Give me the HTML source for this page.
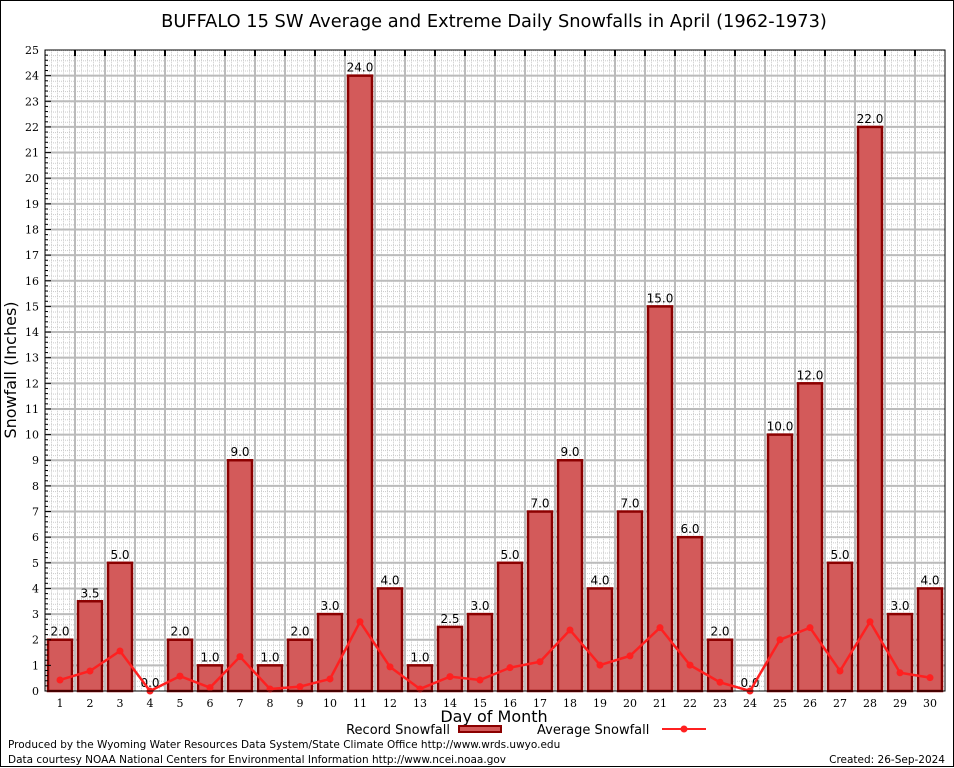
<!DOCTYPE html>
<html><head><meta charset="utf-8"><style>
body{margin:0;background:#fff;}
svg{display:block;font-family:"DejaVu Sans","Liberation Sans",sans-serif;}
</style></head><body>
<svg id="chart" width="954" height="768" viewBox="0 0 954 768">
<defs>
<pattern id="minor" width="6" height="5.128" patternUnits="userSpaceOnUse" x="45" y="50">
<rect width="6" height="5.128" fill="#fff"/>
<line x1="0" y1="0.5" x2="6" y2="0.5" stroke="#ccc" stroke-width="1" stroke-dasharray="1,1"/>
<line x1="0.5" y1="0" x2="0.5" y2="5.128" stroke="#ccc" stroke-width="1" stroke-dasharray="1,1"/>
</pattern>
</defs>
<rect x="0.5" y="0.5" width="953" height="766" fill="#fff" stroke="#000"/>
<text x="494" y="27" font-size="17.8" text-anchor="middle">BUFFALO 15 SW Average and Extreme Daily Snowfalls in April (1962-1973)</text>
<rect x="45" y="50" width="900" height="641" fill="url(#minor)"/>
<g id="grid"></g>
<g id="bars"></g>
<g id="avg"></g>
<rect x="45" y="50" width="900" height="641" fill="none" stroke="#000"/>
<g id="axes"></g>
<text x="16" y="370" font-size="16" text-anchor="middle" transform="rotate(-90 16 370)">Snowfall (Inches)</text>
<text x="494" y="722" font-size="16" text-anchor="middle">Day of Month</text>
<g>
<text x="450" y="734" font-size="13" text-anchor="end">Record Snowfall</text>
<rect x="459" y="726" width="42" height="6" fill="#d35a5a" stroke="#8b0000" stroke-width="2"/>
</g>
<g>
<text x="537" y="734" font-size="13">Average Snowfall</text>
<line x1="662" y1="729" x2="706" y2="729" stroke="#ff2020" stroke-width="2"/>
<circle cx="684" cy="729" r="3.5" fill="#ff2020"/>
</g>
<text x="8" y="748" font-size="10.5">Produced by the Wyoming Water Resources Data System/State Climate Office http://www.wrds.uwyo.edu</text>
<text x="8" y="763" font-size="10.5">Data courtesy NOAA National Centers for Environmental Information http://www.ncei.noaa.gov</text>
<text x="945" y="763" font-size="10.5" text-anchor="end">Created: 26-Sep-2024</text>
</svg>
<script>
const days=[1,2,3,4,5,6,7,8,9,10,11,12,13,14,15,16,17,18,19,20,21,22,23,24,25,26,27,28,29,30];
const recordSnow=[2.0,3.5,5.0,0.0,2.0,1.0,9.0,1.0,2.0,3.0,24.0,4.0,1.0,2.5,3.0,5.0,7.0,9.0,4.0,7.0,15.0,6.0,2.0,0.0,10.0,12.0,5.0,22.0,3.0,4.0];
const avgSnow=[0.43,0.78,1.56,0.0,0.58,0.13,1.34,0.08,0.17,0.47,2.7,0.94,0.08,0.56,0.43,0.91,1.14,2.38,1.01,1.37,2.47,1.01,0.34,0.0,2.0,2.47,0.78,2.7,0.71,0.52];
const yTicks=[0,1,2,3,4,5,6,7,8,9,10,11,12,13,14,15,16,17,18,19,20,21,22,23,24,25];
const NS='http://www.w3.org/2000/svg';
const L=45,R=945,T=50,B=691,YMAX=25;
const xs=d=>L+(d-0.5)*(R-L)/30;
const ys=v=>B-v*(B-T)/YMAX;
function mk(tag,attrs,parent){const e=document.createElementNS(NS,tag);for(const k in attrs)e.setAttribute(k,attrs[k]);document.getElementById(parent).appendChild(e);return e;}
yTicks.forEach(t=>{
 if(t>0&&t<YMAX){const g=mk('line',{x1:L,x2:R,y1:ys(t),y2:ys(t),stroke:'#bbb','stroke-width':2},'grid');
 
 }
 const tk=mk('line',{x1:L,x2:L+6,y1:ys(t),y2:ys(t),stroke:'#000'},'axes');
 
 
 const lb=mk('text',{x:L-6,y:ys(t)+4,'font-size':11,'text-anchor':'end','font-family':'DejaVu Serif, serif'},'axes');
 lb.textContent=t;
 
 
 for(let m=1;m<5;m++){const v=t+m*0.2;if(v<YMAX){const mt=mk('line',{x1:L,x2:L+3,y1:ys(v),y2:ys(v),stroke:'#000'},'axes');
 
 }}
});
days.forEach((d,i)=>{
 if(d<30){const x=L+d*(R-L)/30;const g=mk('line',{x1:x,x2:x,y1:T,y2:B,stroke:'#bbb','stroke-width':2},'grid');
 
 
 const tk=mk('line',{x1:x,x2:x,y1:T,y2:T+6,stroke:'#000','stroke-width':2},'axes');
 
 }
 const lb=mk('text',{x:xs(d),y:B+16,'font-size':11,'text-anchor':'middle','font-family':'DejaVu Serif, serif'},'axes');
 lb.textContent=d;
 
 
 const v=recordSnow[i];const y=ys(v);
 if(v>0){const b=mk('rect',{x:xs(d)-12,y:y,width:24,height:B-y,fill:'#d35a5a',stroke:'#8b0000','stroke-width':2.5},'bars');
 
 }
 const vl=mk('text',{x:xs(d),y:y-4,'font-size':12,'text-anchor':'middle'},'bars');
 vl.textContent=v.toFixed(1);
 
 
});
const pts=days.map((d,i)=>xs(d)+','+ys(avgSnow[i])).join(' ');
const pl=mk('polyline',{points:pts,fill:'none',stroke:'#ff2020','stroke-width':2.5},'avg');


days.forEach((d,i)=>{const c=mk('circle',{cx:xs(d),cy:ys(avgSnow[i]),r:3.5,fill:'#ff2020'},'avg');
 
 });
</script>
</body></html>
